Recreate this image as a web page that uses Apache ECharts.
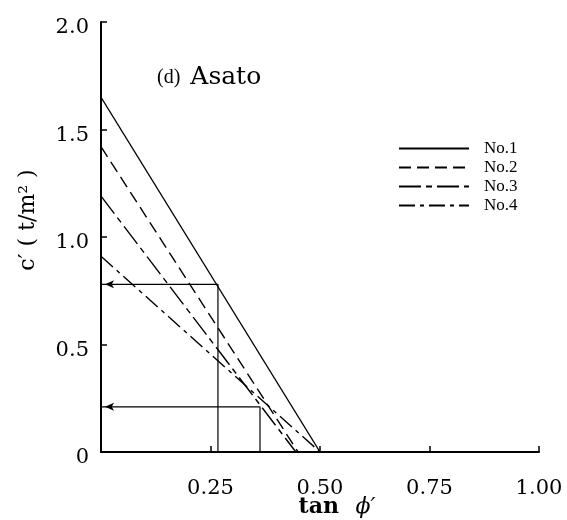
<!DOCTYPE html>
<html>
<head>
<meta charset="utf-8">
<script src="https://cdn.jsdelivr.net/npm/echarts@6/dist/echarts.min.js"></script>
<style>html,body{margin:0;padding:0;background:#fff;}#c{width:567px;height:520px;}</style>
</head>
<body>
<div id="c"></div>
<script>
// Data
var seriesNames = ['No.1', 'No.2', 'No.3', 'No.4'];
var intercepts = [1.65, 1.42, 1.19, 0.91];      // c' at tan phi' = 0
var xEnds = [0.50, 0.45, 0.445, 0.50];           // tan phi' at c' = 0
var guideA = [[0, 0.78], [0.267, 0.78], [0.267, 0]];
var guideB = [[0, 0.21], [0.363, 0.21], [0.363, 0]];
var xTickLabels = ['', '0.25', '0.50', '0.75', '1.00'];
var yTickLabels = ['0', '0.5', '1.0', '1.5', '2.0'];
var dashTypes = ['solid', [12, 6], [22, 5, 6, 5], [16, 5, 4, 5]];

var chart = echarts.init(document.getElementById('c'));
var SERIF = 'DejaVu Serif';
var LSERIF = 'Liberation Serif';

var series = seriesNames.map(function (n, i) {
  return {
    name: n, type: 'line', symbol: 'none', silent: true,
    data: [[0, intercepts[i]], [xEnds[i], 0]],
    itemStyle: { color: '#000' },
    lineStyle: { color: '#000', width: 1.4, type: dashTypes[i] }
  };
});
function guide(d) {
  return {
    type: 'line', silent: true,
    data: d.map(function (p, k) {
      return k === 0 ? { value: p, symbol: 'arrow', symbolSize: [6, 9], symbolRotate: 90, symbolOffset: [4, 0] } : { value: p, symbol: 'none' };
    }),
    itemStyle: { color: '#000' },
    lineStyle: { color: '#000', width: 1.2 }
  };
}
series.push(guide(guideA));
series.push(guide(guideB));

chart.setOption({
  animation: false,
  backgroundColor: '#fff',
  grid: { left: 101, right: 28, top: 22, bottom: 68, containLabel: false, outerBoundsMode: 'none' },
  title: {
    text: '{a|(d)}  {b|Asato}', left: 152, top: 60,
    textStyle: { fontWeight: 'normal', rich: {
      a: { fontFamily: LSERIF, fontSize: 20, color: '#000', fontWeight: 'normal' },
      b: { fontFamily: SERIF, fontSize: 25, color: '#000', fontWeight: 'normal' }
    } }
  },
  legend: {
    data: seriesNames, orient: 'vertical', left: 393, top: 135,
    itemWidth: 70, itemHeight: 14, itemGap: 2,
    itemStyle: { opacity: 0 },
    textStyle: { fontFamily: LSERIF, fontSize: 17, color: '#000', padding: [0, 0, 0, 10] }
  },
  xAxis: {
    type: 'value', min: 0, max: 1, interval: 0.25,
    name: '{t|tan}     {p|ϕ′}', nameLocation: 'middle', nameGap: 44, nameMoveOverlap: false,
    nameTextStyle: { padding: [0, 0, 0, 34], rich: {
      t: { fontFamily: SERIF, fontSize: 22, color: '#000', fontWeight: 'bold' },
      p: { fontFamily: SERIF, fontSize: 22, color: '#000', fontStyle: 'italic' }
    } },
    axisLine: { lineStyle: { color: '#000', width: 2 } },
    axisTick: { inside: true, length: 6, lineStyle: { color: '#000', width: 1.5 } },
    axisLabel: { fontFamily: SERIF, fontSize: 21, color: '#000', margin: 26,
      formatter: function (v) { return xTickLabels[Math.round(v / 0.25)]; } },
    splitLine: { show: false }
  },
  yAxis: {
    type: 'value', min: 0, max: 2, interval: 0.5,
    name: 'c′ ( t/m² )', nameLocation: 'middle', nameGap: 62, nameRotate: 90, nameMoveOverlap: false,
    nameTextStyle: { fontFamily: SERIF, fontSize: 22, color: '#000', padding: [0, 0, 0, 34] },
    axisLine: { lineStyle: { color: '#000', width: 2 } },
    axisTick: { inside: true, length: 6, lineStyle: { color: '#000', width: 1.5 } },
    axisLabel: { color: '#000', margin: 12,
      formatter: function (v) { return '{v|' + yTickLabels[Math.round(v / 0.5)] + '}'; },
      rich: { v: { fontFamily: SERIF, fontSize: 21, color: '#000', padding: [12, 0, 0, 0] } } },
    splitLine: { show: false }
  },
  series: series
});
</script>
</body>
</html>
